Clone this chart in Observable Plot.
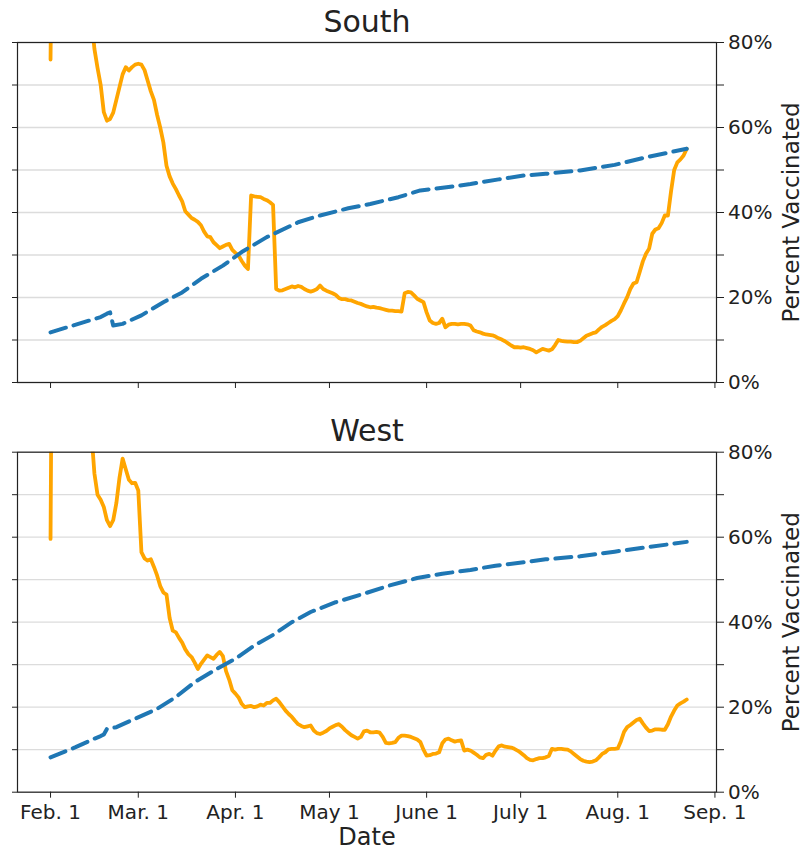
<!DOCTYPE html>
<html>
<head>
<meta charset="utf-8">
<script src="https://cdn.jsdelivr.net/npm/d3@7"></script>
<script src="https://cdn.jsdelivr.net/npm/@observablehq/plot@0.6"></script>
<style>
  html, body { margin: 0; padding: 0; background: #fff; }
  #chart { position: relative; width: 807px; height: 850px; font-family: "DejaVu Sans", sans-serif; }
  #chart > div, #chart > svg { position: absolute; left: 0; }
  g[aria-label="y-axis label"] text { font-size: 23px; }
  g[aria-label="x-axis label"] text { font-size: 24px; }
</style>
</head>
<body>
<div id="chart"></div>
<script>
// ---------- data ----------
const panelTitles = ["South", "West"];
const casesStart = "2021-02-01";

// daily values (left axis scale, same units as the gridlines), from Feb. 1
const southCases = [
  76, 150, 160, 165, 168, 166, 160, 150, 138, 125,
  112, 102, 93, 86, 78.5, 74, 70, 63.6, 61.6, 62,
  63.5, 66.5, 69.5, 72.5, 74.2, 73.4, 74.2, 74.8, 75, 74.8,
  73.5, 71, 68.5, 66.5, 63, 60, 56.5, 51, 48.5, 46.8,
  45.5, 44, 42.6, 40.3, 39.5, 38.7, 38.3, 37.8, 37, 35.5,
  34.4, 34.2, 33, 32.3, 31.6, 32, 32.4, 32.6, 31.2, 30.5,
  29.9, 28.6, 27.5, 26.7, 44, 43.8, 43.7, 43.6, 43.2, 42.9,
  42.4, 41.8, 22, 21.6, 21.7, 22.0, 22.3, 22.6, 22.4, 22.7,
  22.5, 22.0, 21.6, 21.4, 21.6, 22.0, 22.8, 22.0, 21.6, 21.3,
  21.0, 20.6, 19.9, 19.6, 19.6, 19.4, 19.3, 19.0, 18.7, 18.5,
  18.2, 17.9, 17.7, 17.8, 17.6, 17.5, 17.3, 17.1, 16.9, 16.9,
  16.8, 16.8, 16.7, 21.0, 21.3, 21.2, 20.5, 19.7, 19.3, 18.9,
  16.5, 14.6, 14.0, 13.8, 14.0, 15.0, 13.0, 13.6, 13.8, 13.8,
  13.7, 13.8, 13.8, 13.7, 13.4, 12.3, 12.0, 11.8, 11.5, 11.3,
  11.2, 11.1, 10.8, 10.4, 10.1, 9.7, 9.2, 8.7, 8.3, 8.3,
  8.2, 8.3, 8.1, 7.9, 7.6, 7.1, 7.5, 7.9, 7.7, 7.5,
  7.8, 8.8, 10.0, 9.8, 9.7, 9.6, 9.6, 9.5, 9.5, 9.8,
  10.4, 11.0, 11.3, 11.6, 11.8, 12.5, 13.1, 13.5, 14.0, 14.5,
  14.9, 15.6, 17.0, 18.6, 20.1, 22.0, 23.3, 23.6, 26.0, 28.5,
  30.3, 31.5, 35.0, 36.0, 36.3, 37.5, 39.3, 39.3, 45.0, 50.0,
  51.8, 52.5, 53.4, 55
];
const westCases = [
  59.6, 180, 190, 195, 195, 190, 180, 165, 150, 135,
  120, 105, 94, 85, 75, 70, 68.8, 67.1, 64, 62.6,
  64, 68, 74, 78.5, 76, 73.5, 72.7, 72.8, 71, 56.5,
  55, 54.5, 54.8, 53, 51, 48.5, 47, 46.5, 41, 38,
  37.6, 36.3, 35.2, 33.6, 32.5, 31.8, 30.5, 29, 30.2, 31.2,
  32.2, 31.8, 31.4, 32.3, 33, 32, 28.5, 26.5, 24, 23.2,
  22.3, 20.8, 20, 20.2, 20.3, 20, 20.2, 20.6, 20.4, 21,
  21, 21.6, 22, 21.2, 20.2, 19.2, 18.4, 17.7, 16.8, 16,
  15.6, 15.3, 15.5, 15.7, 14.5, 13.9, 13.7, 14, 14.4, 15,
  15.4, 15.8, 16, 15.4, 14.6, 14, 13.4, 13, 12.6, 13,
  14.3, 14.5, 14.1, 14.1, 14.2, 14, 13, 11.6, 11.5, 11.6,
  11.8, 12.8, 13.3, 13.3, 13.2, 13, 12.7, 12.4, 11.8, 10,
  8.6, 8.7, 9, 9.1, 9.4, 11.5, 12.4, 12.6, 12.2, 11.9,
  12.1, 12.2, 9.8, 10, 9.8, 9.3, 8.8, 8.2, 8, 8.8,
  9, 8.6, 9.8, 10.8, 11, 10.7, 10.6, 10.5, 10.2, 9.8,
  9.3, 8.7, 8, 7.6, 7.5, 7.8, 8, 8, 8.2, 8.5,
  10.2, 10, 10.2, 10.2, 10.1, 10, 9.6, 9, 8.4, 7.8,
  7.4, 7.2, 7.1, 7.2, 7.5, 8.2, 9, 9.4, 10.1, 10.2,
  10.2, 10.3, 12, 14.2, 15.3, 15.8, 16.4, 17, 17.3, 16.2,
  15.2, 14.4, 14.5, 14.8, 14.8, 14.7, 14.7, 16, 17.8, 19.2,
  20.4, 20.9, 21.3, 21.8
];

// percent vaccinated (right axis)
const southVaccDates = ["2021-02-01","2021-02-17","2021-02-19","2021-02-20","2021-02-21","2021-02-24","2021-03-02","2021-03-09","2021-03-15","2021-03-21","2021-03-28","2021-04-03","2021-04-11","2021-04-21","2021-04-28","2021-05-07","2021-05-14","2021-05-23","2021-05-30","2021-06-08","2021-06-15","2021-06-24","2021-07-02","2021-07-09","2021-07-20","2021-07-31","2021-08-10","2021-08-23"];
const southVacc = [11.8, 15.4, 16.2, 16.5, 13.4, 13.8, 15.8, 18.9, 21.2, 24.4, 27.5, 30.7, 34.2, 37.7, 39.3, 41.0, 42.0, 43.6, 45.2, 46.0, 46.7, 47.8, 48.7, 49.1, 49.9, 51.2, 53.0, 55.0];
const westVaccDates = ["2021-02-01","2021-02-09","2021-02-15","2021-02-17","2021-02-18","2021-02-19","2021-02-22","2021-02-28","2021-03-07","2021-03-13","2021-03-19","2021-03-26","2021-04-01","2021-04-07","2021-04-13","2021-04-19","2021-04-25","2021-05-03","2021-05-12","2021-05-20","2021-05-29","2021-06-06","2021-06-15","2021-06-23","2021-07-03","2021-07-09","2021-07-20","2021-07-31","2021-08-10","2021-08-23"];
const westVacc = [8.2, 10.6, 12.6, 13.2, 13.6, 14.9, 15.3, 17.3, 19.6, 22.4, 25.9, 29.0, 31.4, 34.5, 37.0, 40.0, 42.4, 44.7, 46.7, 48.6, 50.4, 51.4, 52.3, 53.3, 54.2, 54.8, 55.5, 56.6, 57.6, 58.9];

const xTickDates = ["2021-02-01","2021-03-01","2021-04-01","2021-05-01","2021-06-01","2021-07-01","2021-08-01","2021-09-01"];
const xTickLabels = ["Feb. 1","Mar. 1","Apr. 1","May 1","June 1","July 1","Aug. 1","Sep. 1"];
const xDomain = ["2021-01-21T11:00:00Z", "2021-09-01T12:00:00Z"];
const yTicks = [0, 10, 20, 30, 40, 50, 60, 70, 80];
const yLabelEvery = 20;
const yAxisLabel = "Percent Vaccinated";
const xAxisLabel = "Date";

// ---------- chart ----------
const parseDay = s => new Date(s + "T00:00:00Z");
const tickDates = xTickDates.map(parseDay);
const tickLabelMap = new Map(tickDates.map((d, i) => [+d, xTickLabels[i]]));

function panel({title, cases, vaccDates, vacc, height, marginTop, marginBottom, showX}) {
  const start = parseDay(casesStart);
  const caseData = cases.map((v, i) => ({date: d3.utcDay.offset(start, i), value: v}));
  const vaccData = vacc.map((v, i) => ({date: parseDay(vaccDates[i]), value: v}));
  return Plot.plot({
    width: 807,
    height,
    marginTop,
    marginBottom,
    marginLeft: 17,
    marginRight: 91,
    style: {fontFamily: "DejaVu Sans", fontSize: "20px", color: "#222", background: "white", overflow: "visible"},
    x: {type: "utc", domain: xDomain.map(d => new Date(d))},
    y: {domain: [0, 80]},
    marks: [
      Plot.gridY(yTicks, {stroke: "#dcdcdc", strokeOpacity: 1, strokeWidth: 1.3}),
      Plot.lineY(caseData, {x: "date", y: "value", stroke: "#ffa500", strokeWidth: 3.8, strokeLinejoin: "round", clip: true}),
      Plot.lineY(vaccData, {x: "date", y: "value", stroke: "#1f77b4", strokeWidth: 4, strokeDasharray: "16,8", clip: true}),
      Plot.frame({stroke: "#222", strokeWidth: 1.2}),
      Plot.axisY(yTicks, {anchor: "left", tickSize: 5, tickFormat: () => "", label: null}),
      Plot.axisY(yTicks, {
        anchor: "right", tickSize: 7, tickPadding: 4.5,
        tickFormat: d => d % yLabelEvery === 0 ? `${d}%` : "",
        label: yAxisLabel, labelAnchor: "center", labelOffset: 82, labelArrow: false
      }),
      Plot.axisX(tickDates, {
        anchor: "bottom", tickSize: 6, tickPadding: 7,
        tickFormat: showX ? (d => tickLabelMap.get(+d)) : (() => ""),
        label: showX ? xAxisLabel : null, labelAnchor: "center", labelOffset: 53, labelArrow: false
      }),
      Plot.text([title], {text: d => d, frameAnchor: "top", dy: -11, lineAnchor: "bottom", fontSize: 30, fill: "#222"})
    ]
  });
}

const chart = document.getElementById("chart");
const p1 = panel({title: panelTitles[0], cases: southCases, vaccDates: southVaccDates, vacc: southVacc,
  height: 400, marginTop: 42, marginBottom: 18, showX: false});
p1.style.top = "0px";
const p2 = panel({title: panelTitles[1], cases: westCases, vaccDates: westVaccDates, vacc: westVacc,
  height: 440, marginTop: 41.7, marginBottom: 58.3, showX: true});
p2.style.top = "410px";
chart.appendChild(p1);
chart.appendChild(p2);
</script>
</body>
</html>
